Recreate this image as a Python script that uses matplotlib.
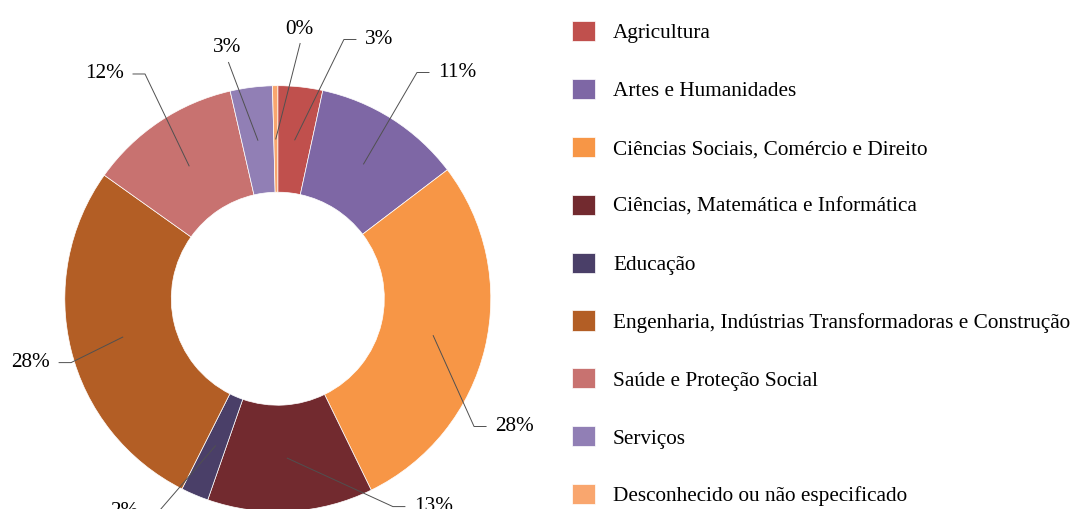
import matplotlib
matplotlib.use("Agg")
import matplotlib.pyplot as plt
import numpy as np

plt.rcParams['font.family'] = ['Liberation Serif', 'DejaVu Serif']

# data
categories = [
    "Agricultura",
    "Artes e Humanidades",
    "Ciências Sociais, Comércio e Direito",
    "Ciências, Matemática e Informática",
    "Educação",
    "Engenharia, Indústrias Transformadoras e Construção",
    "Saúde e Proteção Social",
    "Serviços",
    "Desconhecido ou não especificado",
]
shares = [3.4, 11.3, 28.2, 12.6, 2.1, 27.5, 11.6, 3.2, 0.4]
colors = ["#C0504D", "#7E67A5", "#F79646", "#722A2F", "#4A3F68",
          "#B35E25", "#C87270", "#917FB5", "#F9A66E"]

# label text anchors (data units, radius 1 = outer ring) and which side the leader comes from
label_pos = [(0.409, 1.217, 'r'), (0.752, 1.062, 'r'), (1.020, -0.600, 'r'),
             (0.639, -0.976, 'r'), (-0.656, -0.997, 'l'), (-1.069, -0.300, 'l'),
             (-0.722, 1.055, 'l'), (-0.236, 1.156, 't'), (0.100, 1.245, 't')]

W, H = 1073, 509
fig = plt.figure(figsize=(W / 100, H / 100), dpi=100)
R = 213.0
cx, cy = 277.8, 298.7
ax = fig.add_axes([(cx - R) / W, (H - cy - R) / H, 2 * R / W, 2 * R / H])

wedges, _ = ax.pie(shares, colors=colors, startangle=90, counterclock=False,
                   wedgeprops=dict(width=0.5, edgecolor='white', linewidth=0.5))
ax.set_xlim(-1, 1)
ax.set_ylim(-1, 1)
ax.set_aspect('equal')

px = 1 / R  # one pixel in data units
total = sum(shares)
start = 90.0
lc = '#505050'
for val, (tx, ty, side) in zip(shares, label_pos):
    mid = np.deg2rad(start - val / total * 360 / 2)
    start -= val / total * 360
    ax_, ay_ = 0.75 * np.cos(mid), 0.75 * np.sin(mid)
    txt = f"{round(val):d}%"
    if side == 'r':
        ax.plot([ax_, tx - 21 * px, tx - 9 * px], [ay_, ty, ty], color=lc,
                lw=0.7, clip_on=False)
        ax.text(tx, ty, txt, ha='left', va='center', fontsize=15.3, clip_on=False)
    elif side == 'l':
        ax.plot([ax_, tx + 21 * px, tx + 9 * px], [ay_, ty, ty], color=lc,
                lw=0.7, clip_on=False)
        ax.text(tx, ty, txt, ha='right', va='center', fontsize=15.3, clip_on=False)
    else:
        ax.plot([ax_, tx + 1 * px], [ay_, ty - 10 * px], color=lc,
                lw=0.7, clip_on=False)
        ax.text(tx, ty, txt, ha='center', va='baseline', fontsize=15.3, clip_on=False)

fig.legend(wedges, categories, loc='upper left', bbox_to_anchor=(572 / W, 1 - 21 / H),
           frameon=False, fontsize=15.3, borderpad=0, borderaxespad=0,
           handlelength=1.08, handleheight=1.08, handletextpad=0.85,
           labelspacing=1.675)

fig.savefig("out.png", dpi=100)
